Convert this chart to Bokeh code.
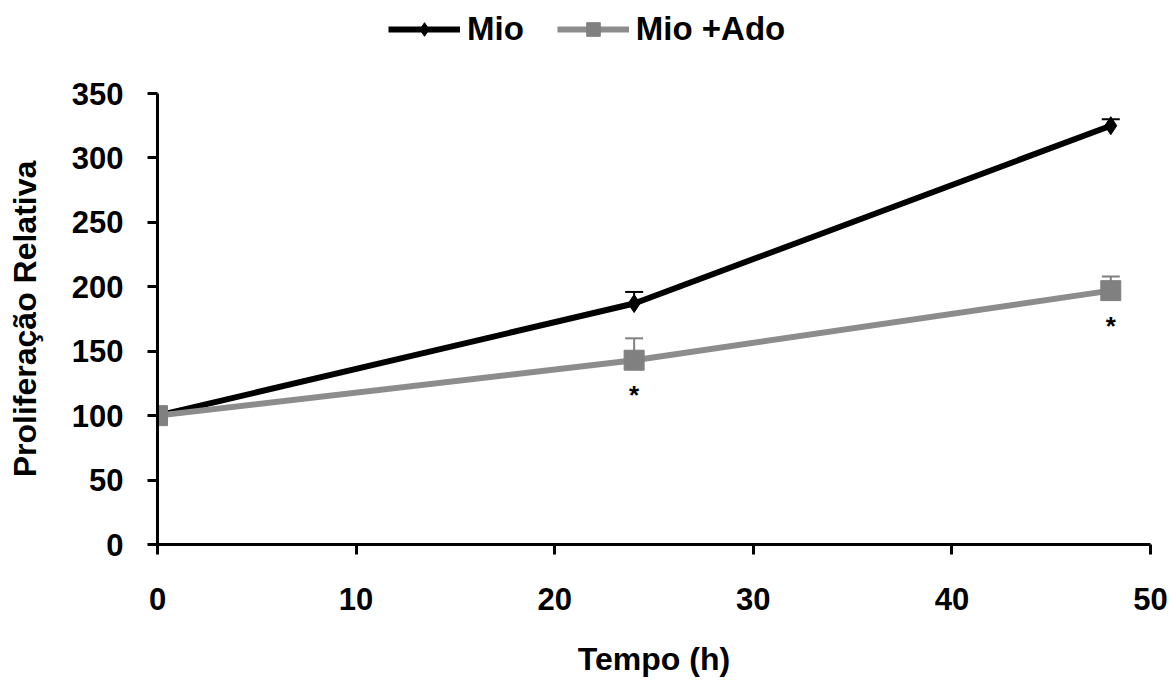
from bokeh.plotting import figure
from bokeh.layouts import column
from bokeh.models import (ColumnDataSource, Range1d, Legend, LegendItem, Whisker,
                          TeeHead, FixedTicker)
from bokeh.core.properties import value
from bokeh.embed import file_html
from bokeh.resources import INLINE

# ---- data ----
time_h = [0, 24, 48]
mio = [100, 187, 325]
mio_err = [0, 9, 5]
mio_ado = [100, 143, 197]
mio_ado_err = [0, 17, 11]
sig_x = [24, 48]
sig_y = [143, 197]
x_ticks = [0, 10, 20, 30, 40, 50]
y_ticks = [0, 50, 100, 150, 200, 250, 300, 350]
series_names = ["Mio", "Mio +Ado"]

FONT = "Liberation Sans"
BLACK = "#000000"
GREY_LINE = "#8c8c8c"
GREY_MARK = "#808080"

TOP_H = 78

# ---- main plot ----
p = figure(width=1169, height=681 - TOP_H, output_backend="svg", toolbar_location=None,
           x_range=Range1d(0, 50), y_range=Range1d(0, 350),
           min_border_left=157, min_border_right=19, min_border_top=15,
           min_border_bottom=137)
p.outline_line_color = None
p.grid.visible = False
p.background_fill_color = "white"
p.border_fill_color = "white"

src_m = ColumnDataSource(dict(x=time_h, y=mio, up=[a + b for a, b in zip(mio, mio_err)]))
src_a = ColumnDataSource(dict(x=time_h, y=mio_ado, up=[a + b for a, b in zip(mio_ado, mio_ado_err)]))

# error bars (upper only)
for src, col in ((src_m, BLACK), (src_a, GREY_MARK)):
    w = Whisker(source=src, base="x", lower="y", upper="up", dimension="height",
                line_color=col, line_width=2,
                upper_head=TeeHead(size=18, line_color=col, line_width=2),
                lower_head=None)
    p.add_layout(w)

p.line("x", "y", source=src_m, line_color=BLACK, line_width=6)
p.scatter("x", "y", source=src_m, marker="diamond", size=18,
          fill_color=BLACK, line_color=BLACK)
p.line("x", "y", source=src_a, line_color=GREY_LINE, line_width=6)
p.scatter("x", "y", source=src_a, marker="square", size=20,
          fill_color=GREY_MARK, line_color=GREY_MARK)

# significance asterisks
p.text(x=sig_x, y=sig_y, text=["*", "*"], text_font=value(FONT),
       text_font_size="26px", text_font_style="bold", text_color=BLACK,
       text_align="center", text_baseline="top", y_offset=20)

# axes
for ax in (p.xaxis[0], p.yaxis[0]):
    ax.axis_line_width = 3
    ax.axis_line_color = BLACK
    ax.major_tick_line_width = 3
    ax.major_tick_line_color = BLACK
    ax.major_tick_out = 10
    ax.major_tick_in = 0
    ax.minor_tick_line_color = None
    ax.major_label_text_font = FONT
    ax.major_label_text_font_size = "31px"
    ax.major_label_text_font_style = "bold"
    ax.major_label_text_color = BLACK
    ax.axis_label_text_font = FONT
    ax.axis_label_text_font_size = "32px"
    ax.axis_label_text_font_style = "bold"
    ax.axis_label_text_color = BLACK

p.xaxis[0].ticker = FixedTicker(ticks=x_ticks)
p.yaxis[0].ticker = FixedTicker(ticks=y_ticks)
p.xaxis[0].axis_label = "Tempo (h)"
p.yaxis[0].axis_label = "Proliferação Relativa"
p.xaxis[0].major_label_standoff = 33
p.xaxis[0].axis_label_standoff = 28
p.yaxis[0].major_label_standoff = 24
p.yaxis[0].axis_label_standoff = 26

# ---- legend strip on top ----
top = figure(width=1169, height=TOP_H, output_backend="svg", toolbar_location=None,
             x_range=Range1d(0, 1), y_range=Range1d(0, 1),
             min_border_left=0, min_border_right=0, min_border_top=0,
             min_border_bottom=0)
top.axis.visible = False
top.grid.visible = False
top.outline_line_color = None
top.border_fill_color = "white"
off = dict(x=[-10, -9], y=[-10, -9])  # outside the strip's ranges
lg_m = top.line(x="x", y="y", source=ColumnDataSource(off), line_color=BLACK, line_width=6)
lg_ms = top.scatter(x="x", y="y", source=ColumnDataSource(off), marker="diamond", size=18,
                    fill_color=BLACK, line_color=BLACK)
lg_a = top.line(x="x", y="y", source=ColumnDataSource(off), line_color=GREY_LINE, line_width=6)
lg_as = top.scatter(x="x", y="y", source=ColumnDataSource(off), marker="square", size=20,
                    fill_color=GREY_MARK, line_color=GREY_MARK)

legend = Legend(items=[LegendItem(label=series_names[0], renderers=[lg_m, lg_ms], index=0),
                       LegendItem(label=series_names[1], renderers=[lg_a, lg_as], index=0)],
                location=(231, 30), orientation="horizontal",
                glyph_width=72, glyph_height=34, label_standoff=7, spacing=33,
                padding=0, margin=0, border_line_color=None,
                background_fill_alpha=0,
                label_text_font=FONT, label_text_font_size="33px",
                label_text_font_style="bold", label_text_color=BLACK)
top.add_layout(legend, "center")

layout = column(top, p, spacing=0)
open("out.html", "w").write(file_html(layout, INLINE))
